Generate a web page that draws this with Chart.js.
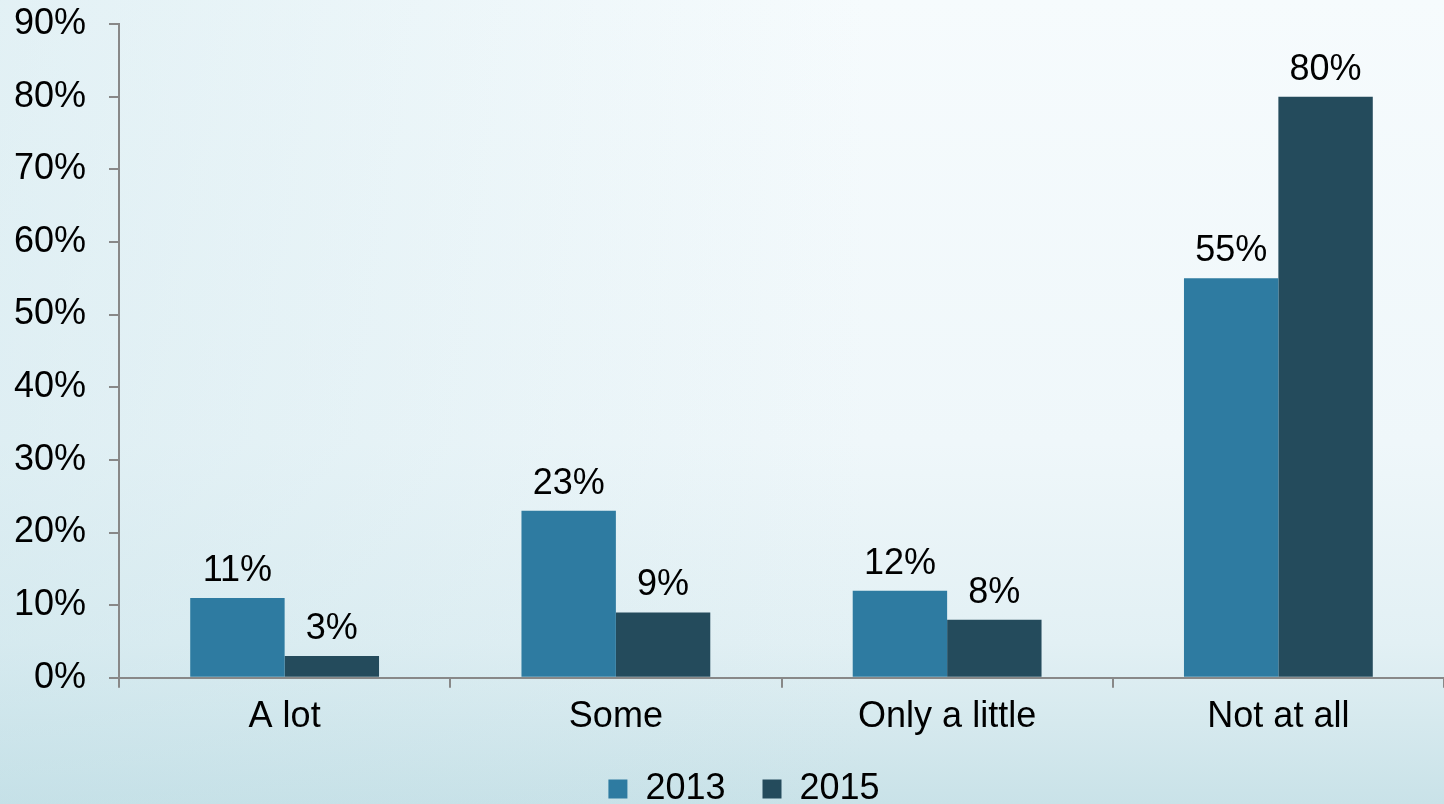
<!DOCTYPE html>
<html>
<head>
<meta charset="utf-8">
<script src="https://cdn.jsdelivr.net/npm/chart.js@4/dist/chart.umd.min.js"></script>
<style>
  html, body { margin: 0; padding: 0; }
  body {
    width: 1444px; height: 804px; overflow: hidden;
    background:
      linear-gradient(90deg, rgba(190, 222, 230, 0.35) 0%, rgba(190, 222, 230, 0) 60%),
      linear-gradient(180deg, #f6fbfd 0%, #eff7fa 55%, #e2f0f4 80%, #c9e2e8 100%);
  }
  #wrap { width: 1444px; height: 804px; }
</style>
</head>
<body>
<div id="wrap"><canvas id="chart"></canvas></div>
<script>
const categories = ['A lot', 'Some', 'Only a little', 'Not at all'];
const values2013 = [11, 23, 12, 55];
const values2015 = [3, 9, 8, 80];
const yTicks = [0, 10, 20, 30, 40, 50, 60, 70, 80, 90];

const FONT = "'Liberation Sans', Arial, sans-serif";

// percent labels above each bar
const valueLabels = {
  id: 'valueLabels',
  afterDatasetsDraw(chart) {
    const ctx = chart.ctx;
    ctx.save();
    ctx.font = `36px ${FONT}`;
    ctx.fillStyle = '#000';
    ctx.textAlign = 'center';
    ctx.textBaseline = 'alphabetic';
    chart.data.datasets.forEach((ds, i) => {
      chart.getDatasetMeta(i).data.forEach((bar, j) => {
        ctx.fillText(ds.data[j] + '%', bar.x, bar.y - 17);
      });
    });
    ctx.restore();
  }
};

// lift the legend a bit and shift it right of its default slot
const legendNudge = {
  id: 'legendNudge',
  afterLayout(chart) {
    const lg = chart.legend;
    if (!lg) return;
    lg.top -= 13;
    lg.left += 22; lg.right += 22;
  }
};

Chart.defaults.font.family = FONT;
Chart.defaults.color = '#000';

new Chart(document.getElementById('chart'), {
  type: 'bar',
  data: {
    labels: categories,
    datasets: [{
      label: '2013',
      data: values2013,
      backgroundColor: '#2e7ba1',
      categoryPercentage: 0.57,
      barPercentage: 1
    }, {
      label: '2015',
      data: values2015,
      backgroundColor: '#244b5c',
      categoryPercentage: 0.57,
      barPercentage: 1
    }]
  },
  options: {
    responsive: true,
    maintainAspectRatio: false,
    animation: false,
    layout: { padding: { top: 24, right: 0, left: 0, bottom: 0 } },
    plugins: {
      tooltip: { enabled: false },
      legend: {
        position: 'bottom',
        maxHeight: 57,
        labels: {
          font: { size: 36 },
          boxWidth: 19,
          boxHeight: 19,
          padding: 37
        }
      }
    },
    scales: {
      x: {
        grid: { drawOnChartArea: false, tickLength: 10, color: '#888', lineWidth: 2 },
        border: { color: '#888', width: 2 },
        ticks: { font: { size: 36 }, padding: 8, maxRotation: 0 }
      },
      y: {
        min: 0,
        max: 90,
        afterBuildTicks: scale => { scale.ticks = yTicks.map(v => ({ value: v })); },
        afterFit: scale => { scale.width = 119; },
        grid: { drawOnChartArea: false, tickLength: 10, color: '#888', lineWidth: 2 },
        border: { color: '#888', width: 2 },
        // tiny line height keeps the end labels from padding the plot top
        ticks: { font: { size: 36, lineHeight: 0.02 }, padding: 23, callback: v => v + '%' }
      }
    }
  },
  plugins: [valueLabels, legendNudge]
});
</script>
</body>
</html>
